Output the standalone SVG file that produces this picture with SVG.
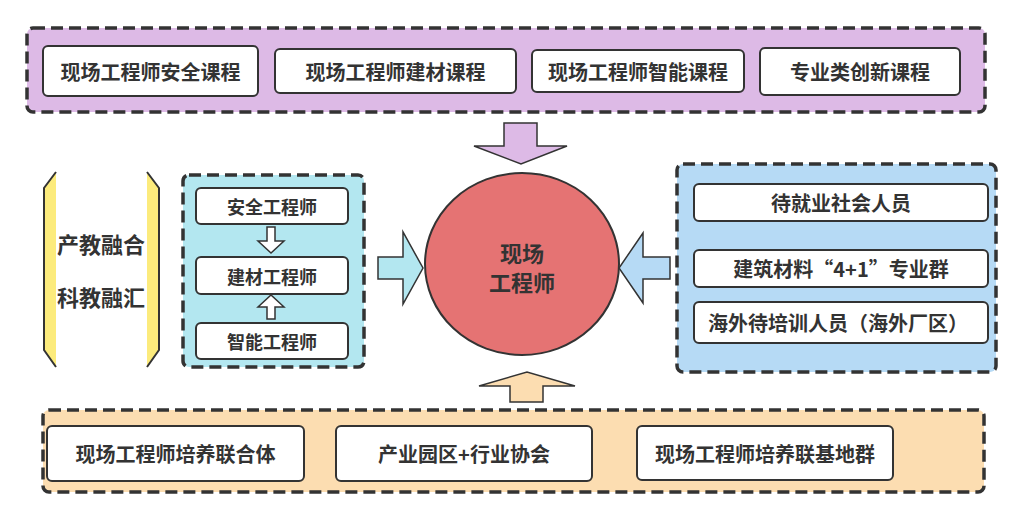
<svg xmlns="http://www.w3.org/2000/svg" width="1024" height="520" viewBox="0 0 1024 520">
<style>
.bg{fill:#ffffff}
.cont{stroke:#333333;stroke-width:3.5;stroke-dasharray:12 6}
.box{fill:#ffffff;stroke:#333333;stroke-width:2}
.t{font-family:"Noto Sans CJK SC","Noto Sans",sans-serif;font-weight:bold;fill:#333333;text-anchor:middle;dominant-baseline:central}
.t20{font-size:20px}
.t18{font-size:18px}
.t22{font-size:22px}
.arr{stroke:#333333;stroke-width:1.5;stroke-linejoin:miter}
</style>
<rect class="bg" x="0" y="0" width="1024" height="520"/>

<g id="top-group">
<rect class="cont" x="27" y="28" width="958" height="84" rx="6" fill="#DDBAE6"/>
<g id="top-1"><rect class="box" x="43" y="46" width="215" height="50" rx="5"/><text class="t t20" x="150.5" y="71">现场工程师安全课程</text></g>
<g id="top-2"><rect class="box" x="275" y="49" width="241" height="44" rx="5"/><text class="t t20" x="395.5" y="71">现场工程师建材课程</text></g>
<g id="top-3"><rect class="box" x="532" y="50" width="212" height="42" rx="5"/><text class="t t20" x="638" y="71">现场工程师智能课程</text></g>
<g id="top-4"><rect class="box" x="760" y="48" width="200" height="47" rx="5"/><text class="t t20" x="860" y="71">专业类创新课程</text></g>
</g>

<g id="brackets">
<polygon points="56,172 44,188 44,350 56,367" fill="#FCEB7C"/>
<polyline points="56,172 44,188 44,350 56,367" fill="none" stroke="#333333" stroke-width="2"/>
<polygon points="147,172 159,188 159,350 147,367" fill="#FCEB7C"/>
<polyline points="147,172 159,188 159,350 147,367" fill="none" stroke="#333333" stroke-width="2"/>
<text class="t t22" x="101" y="243">产教融合</text>
<text class="t t22" x="101" y="296">科教融汇</text>
</g>

<g id="left-group">
<rect class="cont" x="183" y="175" width="181" height="192" rx="6" fill="#B3E7F0"/>
<g id="left-1"><rect class="box" x="196" y="188" width="152" height="36" rx="5"/><text class="t t18" x="272" y="206">安全工程师</text></g>
<g id="left-2"><rect class="box" x="196" y="257" width="152" height="37" rx="5"/><text class="t t18" x="272" y="275.5">建材工程师</text></g>
<g id="left-3"><rect class="box" x="196" y="323" width="152" height="36" rx="5"/><text class="t t18" x="272" y="341">智能工程师</text></g>
</g>

<g id="center">
<ellipse cx="522" cy="264" rx="97" ry="91" fill="#E57373" stroke="#333333" stroke-width="2"/>
<text class="t t22" x="522" y="252">现场</text>
<text class="t t22" x="522" y="281">工程师</text>
</g>

<g id="right-group">
<rect class="cont" x="677" y="164" width="319" height="208" rx="6" fill="#B6DAF5"/>
<g id="right-1"><rect class="box" x="694" y="184" width="294" height="37" rx="5"/><text class="t t20" x="841" y="202.5">待就业社会人员</text></g>
<g id="right-2"><rect class="box" x="694" y="250" width="294" height="37" rx="5"/><text class="t t20" x="841" y="268.5">建筑材料“4+1”专业群</text></g>
<g id="right-3"><rect class="box" x="694" y="302" width="294" height="41" rx="5"/><text class="t t20" x="838" y="322.5">海外待培训人员（海外厂区）</text></g>
</g>

<g id="bottom-group">
<rect class="cont" x="43" y="410" width="941" height="82" rx="6" fill="#FCDDB1"/>
<g id="bottom-1"><rect class="box" x="47" y="426" width="257" height="55" rx="5"/><text class="t t20" x="175.5" y="453.5">现场工程师培养联合体</text></g>
<g id="bottom-2"><rect class="box" x="336" y="426" width="256" height="55" rx="5"/><text class="t t20" x="464" y="453.5">产业园区+行业协会</text></g>
<g id="bottom-3"><rect class="box" x="637" y="426" width="256" height="54" rx="5"/><text class="t t20" x="765" y="453">现场工程师培养联基地群</text></g>
</g>

<g id="connectors">
<polygon class="arr" fill="#DDBAE6" points="504,123 537,123 537,146 567,146 521,164 474,146 504,146"/>
<polygon class="arr" fill="#B3E7F0" points="378,257 403,257 403,232 423,268 403,304 403,279 378,279"/>
<polygon class="arr" fill="#B6DAF5" points="670,257 643,257 643,233 619,268 643,303 643,279 670,279"/>
<polygon class="arr" fill="#FCDDB1" points="510,402 543,402 543,386 575,386 527,372 479,386 510,386"/>
<polygon class="arr" fill="#ffffff" stroke-width="2" points="267,227 275,227 275,241 284,241 271,253 258,241 267,241"/>
<polygon class="arr" fill="#ffffff" stroke-width="2" points="267,319 275,319 275,307 284,307 271,295 258,307 267,307"/>
</g>
</svg>
